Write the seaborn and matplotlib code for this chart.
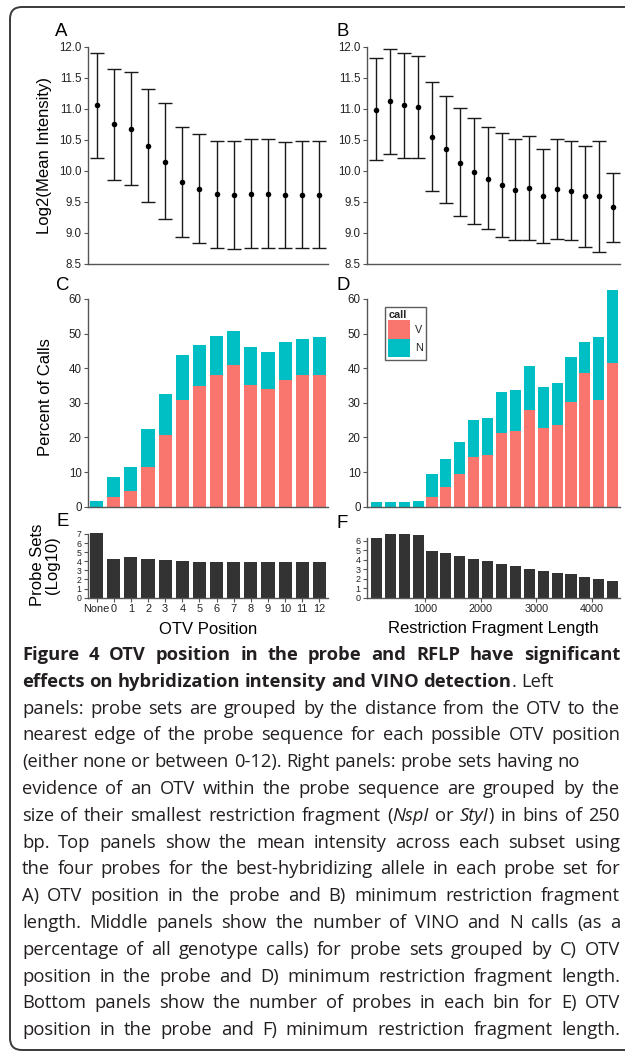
import numpy as np
import pandas as pd
import matplotlib
matplotlib.use("Agg")
import matplotlib.pyplot as plt
import seaborn as sns
from matplotlib.patches import FancyBboxPatch, Patch
from matplotlib.transforms import IdentityTransform

# ---------------- data ----------------
otv_labels = ["None", "0", "1", "2", "3", "4", "5", "6", "7", "8", "9", "10", "11", "12"]
otv_mean = [11.06, 10.75, 10.68, 10.41, 10.14, 9.83, 9.71, 9.63, 9.62, 9.63, 9.63, 9.61, 9.62, 9.62]
otv_low = [10.21, 9.86, 9.77, 9.50, 9.22, 8.94, 8.84, 8.76, 8.74, 8.76, 8.76, 8.76, 8.75, 8.76]
otv_high = [11.90, 11.65, 11.60, 11.33, 11.09, 10.71, 10.60, 10.49, 10.48, 10.52, 10.51, 10.46, 10.48, 10.48]
otv_pct_V = [0.0, 2.8, 4.4, 11.5, 20.7, 30.9, 35.0, 37.9, 40.8, 35.2, 34.1, 36.7, 38.1, 38.1]
otv_pct_total = [1.6, 8.6, 11.5, 22.3, 32.6, 43.8, 46.7, 49.3, 50.8, 46.1, 44.7, 47.6, 48.5, 49.0]
otv_probesets_log10 = [7.05, 4.23, 4.45, 4.23, 4.12, 4.01, 3.90, 3.90, 3.90, 3.90, 3.90, 3.90, 3.90, 3.90]

rflp_bins = [125, 375, 625, 875, 1125, 1375, 1625, 1875, 2125, 2375, 2625, 2875,
             3125, 3375, 3625, 3875, 4125, 4375]
rflp_mean = [10.99, 11.13, 11.06, 11.04, 10.55, 10.35, 10.13, 9.99, 9.87, 9.78, 9.70, 9.73,
             9.60, 9.71, 9.68, 9.60, 9.60, 9.42]
rflp_low = [10.17, 10.27, 10.21, 10.21, 9.68, 9.48, 9.27, 9.15, 9.06, 8.94, 8.88, 8.88,
            8.84, 8.90, 8.88, 8.78, 8.69, 8.86]
rflp_high = [11.82, 11.97, 11.90, 11.85, 11.43, 11.21, 11.01, 10.85, 10.71, 10.62, 10.51, 10.57,
             10.36, 10.52, 10.49, 10.41, 10.49, 9.97]
rflp_pct_V = [0.0, 0.0, 0.0, 0.0, 2.8, 5.7, 9.5, 14.4, 15.0, 21.3, 21.9, 28.0,
              22.8, 23.6, 30.3, 38.6, 30.8, 41.5]
rflp_pct_total = [1.45, 1.45, 1.45, 1.75, 9.4, 13.8, 18.7, 25.0, 25.6, 33.1, 33.7, 40.7,
                  34.6, 35.7, 43.3, 47.6, 49.0, 62.6]
rflp_probesets_log10 = [6.28, 6.70, 6.70, 6.60, 4.91, 4.70, 4.39, 4.07, 3.86, 3.54, 3.33, 3.02,
                        2.81, 2.60, 2.49, 2.18, 1.96, 1.75]

call_labels = ["V", "N"]
rflp_ticks = [1000, 2000, 3000, 4000]

caption_lines = [
    "**Figure 4 OTV position in the probe and RFLP have significant**",
    "**effects on hybridization intensity and VINO detection**. Left",
    "panels: probe sets are grouped by the distance from the OTV to the",
    "nearest edge of the probe sequence for each possible OTV position",
    "(either none or between 0-12). Right panels: probe sets having no",
    "evidence of an OTV within the probe sequence are grouped by the",
    "size of their smallest restriction fragment (_NspI_ or _StyI_) in bins of 250",
    "bp. Top panels show the mean intensity across each subset using",
    "the four probes for the best-hybridizing allele in each probe set for",
    "A) OTV position in the probe and B) minimum restriction fragment",
    "length. Middle panels show the number of VINO and N calls (as a",
    "percentage of all genotype calls) for probe sets grouped by C) OTV",
    "position in the probe and D) minimum restriction fragment length.",
    "Bottom panels show the number of probes in each bin for E) OTV",
    "position in the probe and F) minimum restriction fragment length.",
]
caption_justify = [True, False, True, True, False, True, True, True,
                   True, True, True, True, True, True, True]

# ---------------- style ----------------
sns.set_style("white")
plt.rcParams["font.family"] = ["Liberation Sans", "DejaVu Sans"]

COL_V = "#F8766D"
COL_N = "#00BFC4"
COL_BAR = "#333333"
SPINE = "#555555"
TXT = "#222222"

W, H = 625, 1055
fig = plt.figure(figsize=(W / 100, H / 100), dpi=100)
fig.patch.set_facecolor("white")


def ax_px(l, t, r, b):
    return fig.add_axes([l / W, 1 - b / H, (r - l) / W, (b - t) / H])


def style_axes(ax, xticks=False, ysize=8.3, xsize=7.5):
    for s in ["top", "right"]:
        ax.spines[s].set_visible(False)
    for s in ["left", "bottom"]:
        ax.spines[s].set_color(SPINE)
        ax.spines[s].set_linewidth(1.0)
    ax.tick_params(axis="y", which="both", left=True, length=3, width=0.8, color=SPINE,
                   labelsize=ysize, labelcolor=TXT, pad=1.5)
    if xticks:
        ax.tick_params(axis="x", which="both", bottom=True, length=3, width=0.8, color=SPINE,
                       labelsize=xsize, labelcolor=TXT, pad=1.5)
    else:
        ax.tick_params(axis="x", bottom=False, labelbottom=False)
    ax.set_xlabel("")
    ax.set_ylabel("")
    ax.grid(False)


# ---------------- panel A ----------------
axA = ax_px(88, 47, 328, 264)
dfA = pd.DataFrame({"pos": otv_labels, "mean": otv_mean, "low": otv_low, "high": otv_high})
axA.errorbar(dfA["pos"], dfA["mean"],
             yerr=[dfA["mean"] - dfA["low"], dfA["high"] - dfA["mean"]],
             fmt="none", ecolor="#1a1a1a", elinewidth=1.0, capsize=5.0, capthick=1.0)
sns.scatterplot(data=dfA, x="pos", y="mean", ax=axA, color="black", s=16, linewidth=0, zorder=3)
axA.set_xlim(-0.5, 13.5)
axA.set_ylim(8.5, 12.0)
axA.set_yticks(np.arange(8.5, 12.01, 0.5))
axA.set_yticklabels([f"{v:.1f}" for v in np.arange(8.5, 12.01, 0.5)])
style_axes(axA)

# ---------------- panel B ----------------
axB = ax_px(367, 47, 620, 264)
dfB = pd.DataFrame({"len": rflp_bins, "mean": rflp_mean, "low": rflp_low, "high": rflp_high})
axB.errorbar(dfB["len"], dfB["mean"],
             yerr=[dfB["mean"] - dfB["low"], dfB["high"] - dfB["mean"]],
             fmt="none", ecolor="#1a1a1a", elinewidth=1.0, capsize=5.0, capthick=1.0)
sns.scatterplot(data=dfB, x="len", y="mean", ax=axB, color="black", s=16, linewidth=0, zorder=3)
axB.set_xlim(-45, 4507)
axB.set_ylim(8.5, 12.0)
axB.set_yticks(np.arange(8.5, 12.01, 0.5))
axB.set_yticklabels([f"{v:.1f}" for v in np.arange(8.5, 12.01, 0.5)])
style_axes(axB)

# ---------------- panel C ----------------
axC = ax_px(88, 288.6, 328, 506.7)
dfC = pd.DataFrame({"pos": otv_labels, "V": otv_pct_V, "total": otv_pct_total})
sns.barplot(data=dfC, x="pos", y="total", order=otv_labels, color=COL_N, saturation=1,
            width=0.76, errorbar=None, linewidth=0, ax=axC)
sns.barplot(data=dfC, x="pos", y="V", order=otv_labels, color=COL_V, saturation=1,
            width=0.76, errorbar=None, linewidth=0, ax=axC)
axC.set_xlim(-0.5, 13.5)
axC.set_ylim(0, 63)
axC.set_yticks([0, 10, 20, 30, 40, 50, 60])
axC.spines["left"].set_bounds(0, 60)
style_axes(axC)

# ---------------- panel D ----------------
axD = ax_px(367, 288.6, 620, 506.7)
dfD = pd.DataFrame({"len": rflp_bins, "V": rflp_pct_V, "total": rflp_pct_total})
sns.barplot(data=dfD, x="len", y="total", native_scale=True, color=COL_N, saturation=1,
            errorbar=None, linewidth=0, ax=axD)
sns.barplot(data=dfD, x="len", y="V", native_scale=True, color=COL_V, saturation=1,
            errorbar=None, linewidth=0, ax=axD)
axD.set_xlim(-45, 4507)
axD.set_ylim(0, 63)
axD.set_yticks([0, 10, 20, 30, 40, 50, 60])
axD.spines["left"].set_bounds(0, 60)
style_axes(axD)
handles = [Patch(facecolor=COL_V, edgecolor="none", label=call_labels[0]),
           Patch(facecolor=COL_N, edgecolor="none", label=call_labels[1])]
leg = axD.legend(handles=handles, title="call", loc="upper left",
                 bbox_to_anchor=(0.071, 0.916), borderaxespad=0, frameon=True,
                 fancybox=False, edgecolor="#333333", fontsize=7.8, title_fontsize=7.8,
                 handlelength=2.0, handleheight=2.25, labelspacing=0.0,
                 handletextpad=0.45, borderpad=0.3, alignment="left")
leg.get_frame().set_linewidth(1.0)
leg.get_title().set_fontweight("bold")

# ---------------- panel E ----------------
axE = ax_px(88, 533, 328, 597.7)
dfE = pd.DataFrame({"pos": otv_labels, "n": otv_probesets_log10})
sns.barplot(data=dfE, x="pos", y="n", order=otv_labels, color=COL_BAR, saturation=1,
            width=0.76, errorbar=None, linewidth=0, ax=axE)
axE.set_xlim(-0.5, 13.5)
axE.set_ylim(0, 7.1)
axE.set_yticks(range(0, 8))
axE.spines["left"].set_bounds(0, 7)
style_axes(axE, xticks=True, ysize=6.3, xsize=7.9)

# ---------------- panel F ----------------
axF = ax_px(367, 533, 620, 597.7)
dfF = pd.DataFrame({"len": rflp_bins, "n": rflp_probesets_log10})
sns.barplot(data=dfF, x="len", y="n", native_scale=True, color=COL_BAR, saturation=1,
            errorbar=None, linewidth=0, ax=axF)
axF.set_xlim(-45, 4507)
axF.set_ylim(0, 6.81)
axF.set_yticks(range(0, 7))
axF.set_xticks(rflp_ticks)
axF.set_xticklabels([str(t) for t in rflp_ticks])
axF.spines["left"].set_bounds(0, 6.3)
style_axes(axF, xticks=True, ysize=6.5, xsize=7.8)

# ---------------- labels ----------------
def ftext(x, y, s, **kw):
    return fig.text(x / W, 1 - y / H, s, **kw)

for lab, x, y in [("A", 55, 32), ("B", 337, 32), ("C", 56, 285), ("D", 336, 285),
                  ("E", 57, 521), ("F", 336, 523)]:
    ftext(x, y, lab, fontsize=13.4, color="black", ha="left", va="center")

ftext(45, 155.5, "Log2(Mean Intensity)", fontsize=12, rotation=90, ha="center", va="center",
      color="black")
ftext(45, 397.5, "Percent of Calls", fontsize=12, rotation=90, ha="center", va="center",
      color="black")
ftext(45, 565, "Probe Sets\n(Log10)", fontsize=12, rotation=90, ha="center", va="center",
      color="black", multialignment="center", linespacing=1.05)
ftext(208, 629, "OTV Position", fontsize=12, ha="center", va="center", color="black")
ftext(493, 629, "Restriction Fragment Length", fontsize=12, ha="center", va="center",
      color="black")

# ---------------- border ----------------
border = FancyBboxPatch((10, 5), 650, 1043, boxstyle="round,pad=0,rounding_size=12",
                        transform=IdentityTransform(), fill=False, edgecolor="#3a3a3a",
                        linewidth=1.4)
fig.add_artist(border)

# ---------------- caption ----------------
CAP_FONT = ["Open Sans", "DejaVu Sans"]
CAP_SIZE = 13.2
CAP_COLOR = "#231f20"
CAP_LEFT, CAP_RIGHT = 22, 620
CAP_Y0, CAP_DY = 655, 26.8


def parse_line(line):
    words = []
    cur = []
    buf = ""
    bold = italic = False
    i = 0

    def flush():
        nonlocal buf
        if buf:
            cur.append((buf, bold, italic))
            buf = ""

    while i < len(line):
        if line.startswith("**", i):
            flush()
            bold = not bold
            i += 2
            continue
        ch = line[i]
        if ch == "_":
            flush()
            italic = not italic
        elif ch == " ":
            flush()
            if cur:
                words.append(cur)
            cur = []
        else:
            buf += ch
        i += 1
    flush()
    if cur:
        words.append(cur)
    return words


renderer = fig.canvas.get_renderer()


def make_text(s, bold, italic):
    return fig.text(0, 0, s, family=CAP_FONT, fontsize=CAP_SIZE, color=CAP_COLOR,
                    fontweight="bold" if bold else "normal",
                    fontstyle="italic" if italic else "normal",
                    ha="left", va="baseline")


def text_width(t):
    return t.get_window_extent(renderer).width


tmp1 = make_text("a a", False, False)
tmp2 = make_text("aa", False, False)
space_w = text_width(tmp1) - text_width(tmp2)
tmp1.remove()
tmp2.remove()

for li, (line, just) in enumerate(zip(caption_lines, caption_justify)):
    words = parse_line(line)
    placed = []
    for w in words:
        runs = []
        for (s, b, it) in w:
            t = make_text(s, b, it)
            runs.append((t, text_width(t)))
        placed.append(runs)
    word_w = [sum(r[1] for r in runs) for runs in placed]
    total = sum(word_w)
    if just and len(placed) > 1:
        gap = max((CAP_RIGHT - CAP_LEFT - total) / (len(placed) - 1), 0.55 * space_w)
    else:
        gap = space_w
    x = CAP_LEFT
    y_base = round(CAP_Y0 + li * CAP_DY + 5)
    for runs, ww in zip(placed, word_w):
        xx = x
        for t, tw in runs:
            t.set_position((xx / W, 1 - y_base / H))
            xx += tw
        x += ww + gap

fig.savefig("out.png", dpi=100, facecolor="white")
